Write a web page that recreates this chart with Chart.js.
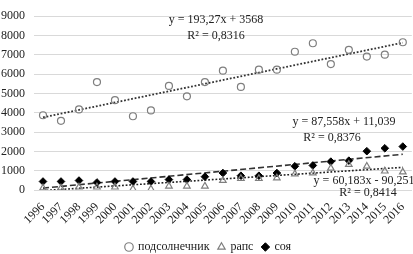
<!DOCTYPE html>
<html>
<head>
<meta charset="utf-8">
<script src="https://cdn.jsdelivr.net/npm/chart.js@4"></script>
<style>
  html, body { margin: 0; padding: 0; background: #fff; overflow: hidden; }
  canvas { display: block; }
</style>
</head>
<body>
<canvas id="cropChart" width="417" height="254"></canvas>
<script>
  // years on the x axis
  const years = ['1996', '1997', '1998', '1999', '2000', '2001', '2002', '2003', '2004', '2005', '2006',
    '2007', '2008', '2009', '2010', '2011', '2012', '2013', '2014', '2015', '2016'];

  // values
  const sunflower = [3870, 3580, 4170, 5590, 4650, 3820, 4120, 5390, 4850, 5590, 6180,
    5340, 6230, 6230, 7160, 7600, 6520, 7260, 6910, 7010, 7650];
  const rapeseed = [100, 100, 150, 150, 150, 50, 50, 200, 200, 200, 490,
    590, 590, 620, 830, 880, 1130, 1320, 1230, 980, 930];
  const soy = [440, 440, 490, 390, 440, 440, 440, 540, 540, 690, 880,
    740, 740, 880, 1230, 1270, 1470, 1520, 2010, 2160, 2250];

  // trendline equations printed on the chart: [slope, intercept]
  const sunTrend = [193.27, 3568];
  const soyTrend = [87.558, 11.039];
  const rapeTrend = [60.183, -90.251];

  const yTicks = [0, 1000, 2000, 3000, 4000, 5000, 6000, 7000, 8000, 9000];

  const legendNames = ['подсолнечник', 'рапс', 'соя'];

  // equation labels
  const eqLabels = [
    { text: 'y = 193,27x + 3568', x: 216, y: 20 },
    { text: 'R² = 0,8316', x: 216, y: 36 },
    { text: 'y = 87,558x + 11,039', x: 344, y: 122 },
    { text: 'R² = 0,8376', x: 332, y: 138 },
    { text: 'y = 60,183x - 90,251', x: 364, y: 181 },
    { text: 'R² = 0,8414', x: 368, y: 193 }
  ];

  function trendPoints(t) {
    const n = years.length;
    return [
      { x: years[0], y: t[0] * 1 + t[1] },
      { x: years[n - 1], y: t[0] * n + t[1] }
    ];
  }

  const serif = "'Liberation Serif', 'DejaVu Serif', serif";

  const eqPlugin = {
    id: 'eqPlugin',
    afterDatasetsDraw(chart) {
      const ctx = chart.ctx;
      ctx.save();
      ctx.font = '12px ' + serif;
      ctx.fillStyle = '#222';
      ctx.textAlign = 'center';
      ctx.textBaseline = 'middle';
      eqLabels.forEach(l => ctx.fillText(l.text, l.x, l.y));
      ctx.restore();
    }
  };

  const ctx = document.getElementById('cropChart').getContext('2d');
  const cropChart = new Chart(ctx, {
    type: 'line',
    data: {
      labels: years,
      datasets: [
        {
          label: legendNames[0],
          data: sunflower,
          showLine: false,
          pointStyle: 'circle',
          pointRadius: 3.5,
          pointBorderWidth: 1.2,
          borderColor: '#7f7f7f',
          backgroundColor: 'rgba(255,255,255,0)',
          order: 1
        },
        {
          label: legendNames[1],
          data: rapeseed,
          showLine: false,
          pointStyle: 'triangle',
          pointRadius: 3.8,
          pointBorderWidth: 1.2,
          borderColor: '#7f7f7f',
          backgroundColor: 'rgba(255,255,255,0)',
          order: 1
        },
        {
          label: legendNames[2],
          data: soy,
          showLine: false,
          pointStyle: 'rectRot',
          pointRadius: 3.8,
          pointBorderWidth: 1,
          borderColor: '#000',
          backgroundColor: '#000',
          order: 1
        },
        {
          label: 'trend1',
          data: trendPoints(sunTrend),
          borderColor: '#333',
          borderWidth: 1.8,
          borderDash: [1.8, 1.8],
          pointRadius: 0,
          order: 2
        },
        {
          label: 'trend2',
          data: trendPoints(soyTrend),
          borderColor: '#333',
          borderWidth: 1.6,
          borderDash: [6, 3],
          pointRadius: 0,
          order: 2
        },
        {
          label: 'trend3',
          data: trendPoints(rapeTrend),
          borderColor: '#222',
          borderWidth: 1.6,
          borderDash: [1.8, 1.8],
          pointRadius: 0,
          order: 2
        }
      ]
    },
    options: {
      responsive: false,
      animation: false,
      layout: { padding: { top: 6, right: 0, left: 0, bottom: -9 } },
      scales: {
        x: {
          offset: true,
          grid: { display: false },
          border: { display: true, color: '#d9d9d9' },
          ticks: {
            color: '#222',
            font: { family: serif, size: 12 },
            minRotation: 45,
            maxRotation: 45,
            autoSkip: false,
            padding: 2
          },
          afterFit(scale) { scale.height = 42; }
        },
        y: {
          min: 0,
          max: 9000,
          afterBuildTicks(scale) { scale.ticks = yTicks.map(v => ({ value: v })); },
          grid: { color: '#d9d9d9', drawTicks: false },
          border: { display: false },
          ticks: {
            color: '#222',
            font: { family: serif, size: 12 },
            padding: 9,
            callback: v => String(v)
          },
          afterFit(scale) { scale.width = 34; }
        }
      },
      plugins: {
        legend: {
          display: true,
          position: 'bottom',
          labels: {
            usePointStyle: true,
            boxWidth: 6,
            boxHeight: 6,
            padding: 9,
            color: '#222',
            font: { family: serif, size: 12 },
            filter: item => legendNames.includes(item.text)
          }
        },
        tooltip: { enabled: false }
      }
    },
    plugins: [eqPlugin]
  });
</script>
</body>
</html>
